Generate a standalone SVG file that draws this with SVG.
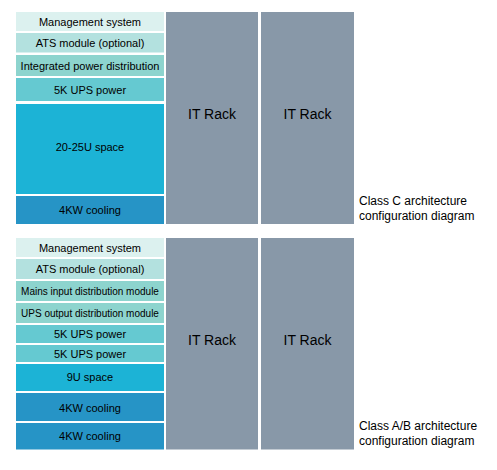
<svg xmlns="http://www.w3.org/2000/svg" width="497" height="470" viewBox="0 0 497 470">
<style>
text{font-family:"Liberation Sans",Arial,sans-serif;fill:#000;text-anchor:middle}
.m{fill:#DCF1EF}.a{fill:#B3E1DF}.i{fill:#8DD4CE}.u{fill:#65C9D1}.s{fill:#1CB3D6}.c{fill:#2694C6}.r{fill:#8898A8}
.t11{font-size:11px}.t10{font-size:10px}.t14{font-size:14px}
.lbl{font-size:12px;text-anchor:start}
</style>
<rect width="497" height="470" fill="#fff"/>
<g id="classC">
<g id="c-mgmt"><rect class="m" x="16" y="12" width="148" height="19"/><text class="t11" x="90" y="25.5">Management system</text></g>
<g id="c-ats"><rect class="a" x="16" y="33" width="148" height="19.5"/><text class="t11" x="90" y="46.5">ATS module (optional)</text></g>
<g id="c-ipd"><rect class="i" x="16" y="55" width="148" height="21"/><text class="t11" x="90" y="69.5">Integrated power distribution</text></g>
<g id="c-ups"><rect class="u" x="16" y="78" width="148" height="23"/><text class="t11" x="90" y="93.5">5K UPS power</text></g>
<g id="c-space"><rect class="s" x="16" y="104" width="148" height="90"/><text class="t11" x="90" y="151">20-25U space</text></g>
<g id="c-cool"><rect class="c" x="16" y="196" width="148" height="28"/><text class="t11" x="90" y="214">4KW cooling</text></g>
<g id="c-rack1"><rect class="r" x="166" y="12" width="92" height="212"/><text class="t14" x="212" y="119">IT Rack</text></g>
<g id="c-rack2"><rect class="r" x="261" y="12" width="93" height="212"/><text class="t14" x="307.5" y="119">IT Rack</text></g>
<g id="c-label"><text class="lbl" x="359" y="205">Class C architecture</text><text class="lbl" x="359" y="220">configuration diagram</text></g>
</g>
<g id="classAB">
<g id="ab-mgmt"><rect class="m" x="16" y="238" width="148" height="19"/><text class="t11" x="90" y="251.5">Management system</text></g>
<g id="ab-ats"><rect class="a" x="16" y="259" width="148" height="20"/><text class="t11" x="90" y="273">ATS module (optional)</text></g>
<g id="ab-mains"><rect class="i" x="16" y="281" width="148" height="20"/><text class="t10" x="90" y="295">Mains input distribution module</text></g>
<g id="ab-upsout"><rect class="i" x="16" y="303" width="148" height="20"/><text class="t10" x="90" y="316.5">UPS output distribution module</text></g>
<g id="ab-ups1"><rect class="u" x="16" y="325" width="148" height="18"/><text class="t11" x="90" y="338">5K UPS power</text></g>
<g id="ab-ups2"><rect class="u" x="16" y="345" width="148" height="17"/><text class="t11" x="90" y="357.5">5K UPS power</text></g>
<g id="ab-space"><rect class="s" x="16" y="364" width="148" height="27"/><text class="t11" x="90" y="381">9U space</text></g>
<g id="ab-cool1"><rect class="c" x="16" y="393" width="148" height="28"/><text class="t11" x="90" y="412">4KW cooling</text></g>
<g id="ab-cool2"><rect class="c" x="16" y="423" width="148" height="26.5"/><text class="t11" x="90" y="440">4KW cooling</text></g>
<g id="ab-rack1"><rect class="r" x="166" y="238" width="92" height="211.5"/><text class="t14" x="212" y="345">IT Rack</text></g>
<g id="ab-rack2"><rect class="r" x="261" y="238" width="93" height="211.5"/><text class="t14" x="307.5" y="345">IT Rack</text></g>
<g id="ab-label"><text class="lbl" x="359" y="430">Class A/B architecture</text><text class="lbl" x="359" y="445">configuration diagram</text></g>
</g>
<g id="connectors"/>
</svg>
